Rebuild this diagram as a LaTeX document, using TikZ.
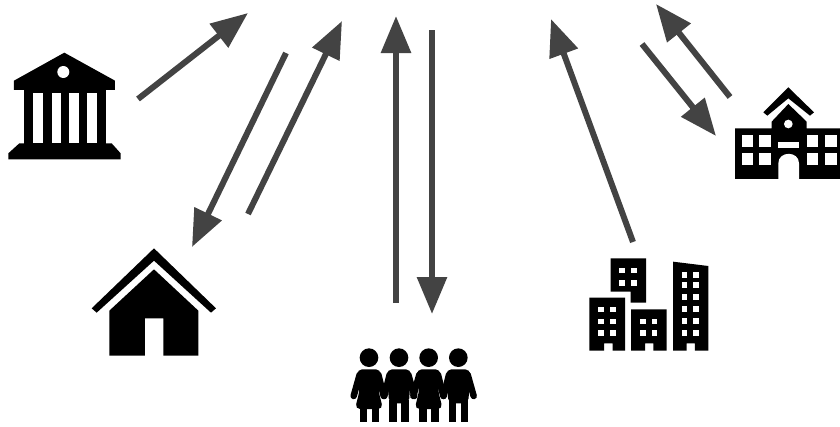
\documentclass[tikz,border=0pt]{standalone}
\usetikzlibrary{arrows.meta}
\definecolor{arrowgrey}{HTML}{434343}
\tikzset{
  flow/.style={draw=arrowgrey,line width=6pt,-{Triangle[length=37pt,width=29pt]}},
  icon/.style={fill=black,draw=none},
  cut/.style={fill=white,draw=none},
  zoomed/.style={x=0.3333pt,y=-0.3333pt},
  limb/.style={draw=black,line width=6.5pt,line cap=round}
}
\newcommand{\womanfig}[1]{%
  \fill[black,rounded corners=5pt] (#1-36,88)--(#1+36,88)--(#1+28,150)--(#1+42,207)--(#1-42,207)--(#1-28,150)--cycle;
  \fill[black] (#1-28,200) rectangle (#1-5,246);
  \fill[black] (#1+8,200) rectangle (#1+30,246);
  \draw[limb] (#1-28,104)--(#1-46,168);
  \draw[limb] (#1+28,104)--(#1+44,168);
}
\newcommand{\manfig}[1]{%
  \fill[black,rounded corners=5pt] (#1-36,88)--(#1+36,88)--(#1+30,190)--(#1-30,190)--cycle;
  \fill[black] (#1-29,180) rectangle (#1-6,246);
  \fill[black] (#1+7,180) rectangle (#1+30,246);
  \draw[limb] (#1-28,104)--(#1-44,168);
  \draw[limb] (#1+28,104)--(#1+46,168);
}
\begin{document}
\begin{tikzpicture}[x=1pt,y=-1pt]
\useasboundingbox (0,0) rectangle (840,426);
% endpoints
\coordinate (a1s) at (138,99);  \coordinate (a1e) at (248,13);
\coordinate (a2s) at (286,53);  \coordinate (a2e) at (192,247);
\coordinate (a3s) at (248,214); \coordinate (a3e) at (342,21);
\coordinate (a4s) at (396,303); \coordinate (a4e) at (396,16);
\coordinate (a5s) at (432,30);  \coordinate (a5e) at (432,314);
\coordinate (a6s) at (633,242); \coordinate (a6e) at (551,19);
\coordinate (a7s) at (730,97);  \coordinate (a7e) at (656,4);
\coordinate (a8s) at (642,44);  \coordinate (a8e) at (716,136);
\draw[flow] (a1s)--(a1e);
\draw[flow] (a2s)--(a2e);
\draw[flow] (a3s)--(a3e);
\draw[flow] (a4s)--(a4e);
\draw[flow] (a5s)--(a5e);
\draw[flow] (a6s)--(a6e);
\draw[flow] (a7s)--(a7e);
\draw[flow] (a8s)--(a8e);
% bank
\begin{scope}[shift={(0pt,-40pt)},zoomed]
\fill[icon] (193,38)--(345,122)--(345,150)--(42,150)--(42,122)--cycle;
\fill[cut] (190,96) circle[radius=18];
\fill[icon] (72,150) rectangle (318,312);
\foreach \xa/\xb in {100/128,155/183,208/236,262/290}
  \fill[cut] (\xa,158) rectangle (\xb,308);
\fill[icon] (58,310)--(335,310)--(362,340)--(362,358)--(25,358)--(25,340)--cycle;
\end{scope}
% house
\begin{scope}[shift={(80pt,-240pt)},zoomed]
\fill[icon] (222,25)--(408,205)--(393,218)--(222,62)--(50,218)--(35,205)--cycle;
\fill[icon] (222,88)--(355,212)--(355,347)--(250,347)--(250,235)--(195,235)--(195,347)--(88,347)--(88,212)--cycle;
\end{scope}
% people
\begin{scope}[shift={(340pt,-340pt)},zoomed]
\foreach \cx in {87,177,266,355} \fill[icon] (\cx,53) circle[radius=28];
\womanfig{87}
\manfig{177}
\womanfig{266}
\manfig{355}
\end{scope}
% buildings
\begin{scope}[shift={(580pt,-250pt)},zoomed]
\fill[icon] (92,25)--(198,25)--(198,158)--(152,158)--(152,125)--(92,125)--cycle;
\foreach \xx in {118,153} \foreach \yy in {53,90} \fill[cut] (\xx,\yy) rectangle ++(17,17);
\fill[icon] (28,143)--(135,143)--(135,302)--(98,302)--(98,280)--(72,280)--(72,302)--(28,302)--cycle;
\foreach \xx in {54,90} \foreach \yy in {170,206,241} \fill[cut] (\xx,\yy) rectangle ++(17,17);
\fill[icon] (153,178)--(260,178)--(260,302)--(220,302)--(220,280)--(195,280)--(195,302)--(153,302)--cycle;
\foreach \xx in {180,215} \foreach \yy in {206,241} \fill[cut] (\xx,\yy) rectangle ++(17,17);
\fill[icon] (279,35)--(385,48)--(385,302)--(345,302)--(345,280)--(320,280)--(320,302)--(279,302)--cycle;
\foreach \xx in {305,340} \foreach \yy in {66,97,133,169,205,240} \fill[cut] (\xx,\yy) rectangle ++(17,17);
\end{scope}
% school
\begin{scope}[shift={(725pt,-80pt)},zoomed]
\fill[icon] (190,22)--(267,97)--(255,107)--(190,55)--(127,107)--(115,97)--cycle;
\fill[icon] (30,145)--(140,145)--(140,125)--(190,72)--(245,125)--(245,145)--(345,145)--(345,297)--(30,297)--cycle;
\fill[cut] (190,132) circle[radius=13];
\fill[cut] (160,185) rectangle (222,203);
\fill[cut] (160,297)--(160,250) .. controls (160,212) and (222,212) .. (222,250)--(222,297)--cycle;
\foreach \xa/\xb in {50/85,103/138,245/280,300/335} \foreach \yy in {165,220}
  \fill[cut] (\xa,\yy) rectangle (\xb,\yy+35);
\end{scope}
\end{tikzpicture}
\end{document}
